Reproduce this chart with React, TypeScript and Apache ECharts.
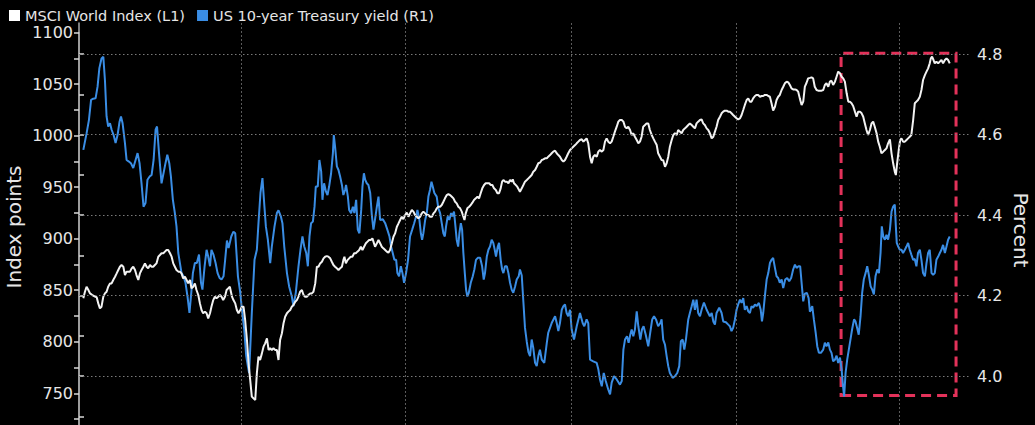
import React, { useEffect, useRef } from "react";
import * as echarts from "echarts";

// Series names (legend)
const seriesNames = ["MSCI World Index (L1)", "US 10-year Treasury yield (R1)"];

// x values are days since 2025-01-01
const msciDays = [
  2.4,3.3,4.2,5.2,6.1,7.4,8.9,9.8,10.7,11.6,
  12.5,13.5,14.4,15.3,16.2,17.2,18.1,19.0,20.0,20.9,
  21.8,22.7,23.6,24.6,25.5,26.4,27.3,28.3,29.2,30.1,
  31.1,31.9,32.9,33.8,34.7,35.7,36.6,37.5,38.4,39.4,
  40.3,41.2,42.1,43.0,44.0,44.9,45.8,46.8,47.7,48.6,
  49.5,50.5,51.4,52.3,53.2,54.1,55.1,56.0,56.9,57.8,
  58.8,59.7,60.6,61.6,62.4,63.4,64.3,65.2,66.2,67.1,
  68.0,68.9,69.9,70.8,71.7,72.7,73.5,74.5,75.4,76.3,
  77.3,78.2,79.1,80.0,81.0,81.9,82.8,83.7,84.9,85.7,
  86.7,87.6,88.5,89.5,90.4,91.3,92.2,93.2,94.1,95.0,
  95.9,96.8,97.8,98.7,99.6,100.5,101.5,102.4,103.3,104.3,
  105.2,106.1,107.0,107.9,108.9,109.8,110.7,111.6,112.6,113.5,
  114.4,115.4,116.2,117.2,118.1,119.0,120.0,120.9,121.8,122.7,
  123.7,124.6,125.5,126.4,127.3,128.3,129.2,130.1,131.1,132.0,
  132.9,133.8,134.8,135.7,136.6,137.5,138.4,139.4,140.3,141.2,
  142.1,143.1,144.0,144.9,145.9,146.7,147.3,148.1,149.0,149.9,
  150.8,151.7,152.7,153.6,154.5,155.5,156.4,157.3,158.2,159.2,
  160.1,161.0,161.9,162.8,163.4,164.3,165.3,166.2,167.1,168.0,
  168.9,169.9,170.8,171.7,172.6,173.6,174.5,175.4,176.4,177.3,
  178.2,179.1,180.0,181.0,181.9,182.8,183.7,184.7,185.6,186.5,
  187.5,188.3,189.3,190.2,191.1,192.1,193.0,193.9,194.8,195.8,
  196.7,197.6,198.5,199.4,200.4,201.3,202.2,203.1,204.1,205.0,
  205.9,206.9,207.8,208.7,209.6,210.5,211.5,212.4,213.3,213.9,
  214.6,215.5,216.5,217.4,218.3,219.2,220.2,221.1,222.0,222.9,
  223.8,224.8,225.7,226.6,227.6,228.5,229.4,230.3,231.3,232.2,
  233.1,234.0,234.8,235.5,236.4,237.4,238.3,239.2,240.1,240.7,
  241.4,242.4,243.2,244.2,244.7,245.7,246.6,247.5,248.5,249.4,
  250.3,251.2,252.1,253.1,254.0,254.9,255.8,256.8,257.7,258.6,
  259.6,260.4,261.4,262.3,263.2,264.2,265.1,266.0,266.9,267.9,
  268.8,269.7,270.6,271.5,272.5,273.4,274.3,275.3,276.2,277.1,
  278.0,279.0,279.9,280.8,281.7,282.6,283.6,284.5,285.4,286.3,
  287.3,288.2,289.1,290.1,291.0,291.9,292.8,293.7,294.7,295.6,
  296.5,297.4,298.4,299.3,300.2,301.2,302.1,303.0,303.9,304.8,
  305.8,306.7,307.6,308.5,309.5,310.4,311.3,312.2,313.1,314.1,
  315.0,315.9,316.8,317.8,318.7,319.6,320.6,321.4,322.4,323.3,
  324.2,325.2,326.1,327.0,327.9,328.9,329.8,330.7,331.7,332.5,
  333.5,334.4,335.3,336.3,337.2,338.1,339.0,340.0,340.9,341.8,
  342.7,343.6,344.6,345.5,346.4,347.3,348.3,349.2,350.1,351.1,
  352.0,352.9,353.8,354.7,355.7,356.6,357.5,358.4,359.4,360.3,
  361.2,362.1,363.0,364.0,364.9,365.8,366.8,367.7,368.6,369.5,
  370.5,371.4,372.3,373.2,374.1,375.1,376.0,376.9,377.9,378.8,
  379.7,380.6,381.6,382.5,383.4,384.3,385.2,386.2,387.1,388.0,
  388.9,389.9,390.8,391.7,392.7,393.6,394.5,395.4,396.3,397.3,
  398.2,399.1,400.0,401.0,401.9,402.8,403.7,404.6,405.6,406.5,
  407.4,408.3,409.3,410.2,411.1,412.1,413.0,413.9,414.8,415.8,
  416.7,417.6,418.5,419.5,420.4,421.3,422.3,423.2,424.1,425.0,
  426.0,426.9,427.8,428.7,429.6,430.6,431.5,432.4,433.4,434.3,
  435.2,436.1,437.0,437.9,438.9,439.8,440.7,441.6,442.6,443.5,
  444.4,445.3,446.3,447.2,448.1,449.0,450.0,450.9,451.8,452.7,
  453.3,454.0,454.9,455.7,456.4,457.3,458.3,459.2,460.1,461.0,
  461.9,462.9,463.8,464.7,465.6,466.6,467.5,468.4,469.4,470.3,
  471.2,472.1,472.7,473.4,474.2,474.9,475.8,476.8,477.7,478.6,
  479.5,480.5,481.4,482.3,483.2,
];

const msciValues = [
  842.1,848.5,853.4,850.2,846.9,845.3,843.7,843.1,837.2,832.4,
  834.0,843.7,846.9,848.5,853.4,856.6,856.6,859.9,863.1,866.3,
  869.6,872.8,874.4,872.8,864.7,868.0,868.0,868.0,871.2,872.8,
  869.6,864.7,859.9,866.3,869.6,872.8,876.0,872.8,871.2,874.4,
  872.8,872.8,874.4,876.0,882.5,884.1,885.8,885.8,887.4,889.0,
  889.0,885.8,882.5,876.0,872.8,869.6,868.0,868.0,866.3,861.5,
  863.1,859.9,856.6,859.9,851.8,853.4,856.6,850.2,845.3,837.2,
  830.8,827.6,829.2,827.6,822.7,827.6,834.0,840.4,843.7,842.1,
  843.7,845.3,843.7,840.4,843.7,850.2,851.8,853.4,843.7,840.4,
  837.2,830.8,827.6,830.8,834.0,834.0,821.1,801.7,779.0,762.9,
  746.7,745.1,743.5,769.4,785.5,782.3,788.7,795.2,798.4,803.3,
  792.0,793.6,792.0,793.6,792.0,792.0,782.3,801.7,808.2,817.9,
  824.3,827.6,829.2,830.8,834.0,835.6,838.8,840.4,843.7,848.5,
  850.2,845.3,843.7,843.7,845.3,846.9,846.9,848.5,856.6,872.8,
  872.8,876.0,877.6,880.9,882.5,883.1,882.5,880.9,877.6,874.4,
  872.8,871.2,869.6,871.2,872.8,879.2,882.5,876.0,879.2,880.9,
  882.5,882.5,885.8,885.8,887.4,889.0,892.2,889.0,892.2,895.5,
  897.1,898.7,898.7,900.3,897.1,892.2,895.5,898.7,895.5,892.2,
  890.6,889.0,887.4,886.4,889.0,895.5,901.9,905.1,911.6,914.8,
  918.1,921.3,919.0,922.9,925.2,921.3,924.5,927.8,926.2,922.9,
  921.3,919.7,921.3,924.5,926.2,924.5,922.9,922.9,921.3,921.3,
  924.5,926.2,929.4,931.0,931.0,932.6,935.8,939.1,942.3,943.3,
  942.3,940.7,939.1,935.8,934.2,931.0,929.4,926.2,921.3,918.1,
  924.5,929.4,931.0,932.6,934.9,937.5,939.1,940.7,939.1,944.0,
  948.8,952.0,953.7,953.7,953.7,952.0,952.0,948.8,947.2,944.0,
  944.0,948.8,955.3,956.9,955.3,955.3,953.7,956.9,955.3,957.5,
  953.7,952.0,950.4,947.2,945.6,948.8,952.0,955.3,956.9,958.5,
  960.1,961.7,965.0,966.6,969.8,973.1,973.7,976.3,976.9,977.9,
  977.9,979.5,981.1,982.8,984.4,985.3,982.8,981.1,979.5,976.3,
  974.7,976.3,979.5,982.8,986.0,987.6,989.2,990.8,992.5,994.1,
  995.7,996.4,994.1,995.7,997.3,992.5,979.5,973.1,979.5,981.1,
  979.5,984.4,986.0,984.4,986.0,994.1,997.3,994.1,992.5,994.1,
  998.9,1003.8,1008.6,1013.5,1015.1,1015.1,1013.5,1008.6,1007.0,1008.6,
  1005.4,1000.6,1002.2,998.9,995.7,992.5,994.1,998.9,1008.6,1010.2,
  1011.8,1011.8,1005.4,1000.6,997.3,994.1,990.8,982.8,979.5,976.3,
  976.0,969.8,973.1,979.5,989.2,995.7,1000.6,1002.2,1000.6,1005.4,
  1003.8,1002.2,1005.4,1007.0,1008.6,1010.2,1011.8,1010.2,1008.6,1007.0,
  1011.8,1013.5,1015.1,1015.8,1011.8,1010.2,1007.0,1005.4,1002.2,997.3,
  998.9,1003.8,1008.6,1015.1,1018.3,1021.6,1023.2,1024.2,1024.2,1023.2,
  1023.2,1021.6,1020.0,1018.3,1016.7,1015.8,1016.7,1020.0,1024.8,1029.7,
  1034.5,1036.1,1032.9,1032.9,1036.1,1038.4,1039.4,1039.4,1037.7,1038.4,
  1038.4,1039.4,1039.4,1038.4,1037.7,1031.3,1024.2,1028.0,1034.5,1037.7,
  1039.4,1044.2,1047.4,1050.7,1052.3,1051.6,1049.1,1045.8,1044.8,1044.8,
  1044.2,1042.6,1036.1,1029.7,1032.9,1047.4,1051.0,1055.5,1056.0,1056.5,
  1055.5,1047.4,1044.2,1043.6,1043.6,1043.6,1044.2,1049.1,1050.7,1047.4,
  1052.3,1053.2,1049.1,1052.3,1057.1,1062.0,1060.4,1057.1,1055.5,1052.3,
  1041.0,1032.9,1032.9,1031.3,1028.7,1023.2,1018.3,1023.2,1023.2,1021.6,
  1018.3,1011.8,1005.4,1000.6,1005.4,1011.8,1013.5,1008.6,1002.2,994.1,
  989.2,982.8,984.4,986.0,987.6,992.5,996.4,982.8,973.1,965.0,
  961.7,973.1,986.0,995.7,997.3,994.1,994.1,995.7,997.3,998.9,
  1000.6,1015.1,1031.3,1032.9,1034.5,1037.7,1044.2,1053.9,1058.7,1062.0,
  1065.2,1070.1,1074.9,1076.5,1073.3,1070.1,1071.7,1070.1,1071.7,1073.3,
  1070.1,1073.3,1074.9,1073.3,1070.1,
];

const yieldDays = [
  2.4,4.2,5.5,6.7,7.9,9.2,10.3,11.3,12.5,13.5,
  14.4,15.3,16.2,17.2,18.1,19.2,20.3,21.4,22.5,23.3,
  24.2,25.5,26.4,27.7,28.8,30.1,31.4,32.5,33.6,34.7,
  35.8,36.9,38.0,39.2,40.3,41.4,42.5,43.3,44.4,45.8,
  46.9,48.0,49.0,50.1,51.0,52.1,53.2,54.1,55.1,56.0,
  56.9,58.0,59.1,60.2,61.3,62.3,63.2,64.3,65.4,66.6,
  67.7,68.5,69.7,70.8,71.7,72.7,73.5,74.6,75.8,76.9,
  78.0,79.1,80.2,81.1,82.1,83.0,84.5,85.7,86.7,88.2,
  89.5,90.4,91.7,92.8,93.7,94.4,95.9,97.4,98.7,99.6,
  100.7,101.8,102.9,103.7,104.8,106.1,107.0,108.5,109.8,110.7,
  112.0,112.9,113.9,115.4,116.6,118.1,119.0,120.3,121.8,122.9,
  124.0,125.0,126.1,127.0,127.9,128.8,129.8,130.7,131.4,132.5,
  133.4,134.4,135.1,136.0,137.0,137.9,138.8,139.9,140.9,141.4,
  142.1,143.1,144.0,144.9,145.9,146.7,147.7,148.2,149.2,149.9,
  151.0,152.0,152.8,153.8,154.7,155.6,156.6,157.3,158.1,158.8,
  159.7,160.6,161.6,162.5,163.4,164.3,165.3,166.2,167.1,168.6,
  169.9,171.1,172.3,173.2,174.1,175.0,176.0,176.7,177.6,178.6,
  179.5,180.4,181.5,182.6,183.7,184.9,186.0,187.1,187.8,188.9,
  189.7,190.4,191.1,192.1,193.0,193.9,194.8,195.6,196.3,197.2,
  198.5,199.4,200.4,201.3,202.2,203.0,203.7,204.6,205.5,206.5,
  207.2,208.1,208.9,209.6,210.4,211.1,211.9,212.6,213.3,214.1,
  214.8,215.5,216.3,217.4,218.5,219.4,220.3,221.3,222.6,223.7,
  224.6,225.3,226.3,227.2,228.1,229.0,229.9,230.7,231.4,232.4,
  233.1,234.0,234.8,235.5,236.4,237.4,238.3,239.2,240.1,241.0,
  242.0,242.9,244.0,244.7,245.7,246.6,247.5,248.5,249.4,250.3,
  251.2,252.1,253.1,254.0,254.9,255.8,256.8,258.2,259.6,260.4,
  262.3,264.2,265.1,266.0,266.9,267.9,268.8,269.7,270.6,271.5,
  272.5,273.4,274.7,276.2,278.0,279.5,280.4,281.7,282.6,283.6,
  285.4,287.3,288.2,289.1,290.1,291.2,292.3,293.7,294.7,295.6,
  296.9,298.4,300.2,301.2,302.1,303.0,304.1,305.0,305.9,306.7,
  307.6,308.5,309.5,310.4,311.5,312.4,313.3,314.5,315.9,317.0,
  318.1,319.1,320.2,321.4,322.6,323.3,324.2,325.2,326.1,327.0,
  327.9,329.4,330.7,332.0,333.1,334.0,335.0,335.9,336.8,338.1,
  339.0,340.0,340.9,341.8,342.7,343.6,344.6,345.5,346.8,348.3,
  349.2,350.1,351.1,352.0,352.9,353.8,355.3,356.6,357.5,359.0,
  360.3,361.2,362.1,363.0,364.0,364.9,365.8,366.8,367.7,368.6,
  369.5,370.5,371.4,372.3,373.2,374.1,375.1,376.0,377.3,378.3,
  379.0,379.7,380.6,381.6,382.5,383.4,384.3,385.2,386.2,387.1,
  388.0,388.9,389.9,390.8,391.9,393.0,394.1,395.2,396.3,397.3,
  398.2,399.3,400.2,401.1,401.9,402.8,403.9,404.9,405.6,406.9,
  407.8,408.8,409.7,410.6,411.7,413.0,413.9,414.8,415.8,416.7,
  417.6,418.5,419.5,420.4,421.3,422.3,423.2,423.9,424.6,425.4,
  426.3,427.2,428.1,429.0,430.1,430.9,431.8,432.7,433.7,434.6,
  435.5,436.5,437.4,438.3,439.3,440.2,441.1,442.0,443.0,443.9,
  444.8,445.5,446.3,447.2,448.1,449.0,450.0,450.9,451.8,452.7,
  453.3,453.8,454.6,455.5,456.4,457.3,458.3,459.2,460.1,461.0,
  461.9,462.9,463.8,464.7,465.6,466.6,467.5,468.4,469.4,470.3,
  471.2,472.1,473.1,474.0,474.9,475.8,476.8,477.7,478.6,479.5,
  480.5,481.4,482.3,483.2,
];

const yieldValues = [
  4.562,4.603,4.636,4.686,4.689,4.690,4.719,4.765,4.789,4.793,
  4.735,4.645,4.620,4.628,4.612,4.599,4.579,4.599,4.632,4.645,
  4.628,4.579,4.537,4.533,4.529,4.517,4.537,4.554,4.529,4.479,
  4.421,4.430,4.488,4.496,4.500,4.537,4.612,4.620,4.554,4.479,
  4.504,4.529,4.550,4.529,4.496,4.438,4.405,4.372,4.306,4.281,
  4.256,4.248,4.232,4.198,4.157,4.207,4.256,4.281,4.281,4.302,
  4.232,4.215,4.273,4.314,4.297,4.273,4.314,4.302,4.281,4.256,
  4.244,4.240,4.248,4.289,4.337,4.318,4.347,4.359,4.355,4.248,
  4.207,4.165,4.116,4.050,4.025,4.008,4.157,4.289,4.314,4.380,
  4.455,4.492,4.421,4.372,4.339,4.281,4.322,4.372,4.405,4.412,
  4.397,4.380,4.322,4.256,4.223,4.198,4.174,4.207,4.273,4.314,
  4.347,4.322,4.306,4.273,4.347,4.380,4.384,4.421,4.471,4.471,
  4.537,4.508,4.438,4.479,4.459,4.450,4.471,4.504,4.554,4.599,
  4.570,4.521,4.512,4.496,4.475,4.450,4.463,4.475,4.446,4.413,
  4.405,4.421,4.405,4.438,4.364,4.355,4.413,4.471,4.504,4.488,
  4.479,4.475,4.455,4.400,4.364,4.390,4.421,4.446,4.388,4.390,
  4.380,4.364,4.347,4.322,4.306,4.289,4.289,4.256,4.248,4.273,
  4.256,4.232,4.256,4.289,4.347,4.364,4.380,4.397,4.413,4.388,
  4.355,4.339,4.355,4.388,4.405,4.446,4.463,4.483,4.471,4.455,
  4.446,4.417,4.405,4.380,4.355,4.347,4.372,4.397,4.388,4.405,
  4.397,4.409,4.372,4.339,4.322,4.355,4.380,4.364,4.306,4.256,
  4.215,4.198,4.207,4.232,4.248,4.265,4.289,4.294,4.294,4.273,
  4.240,4.256,4.297,4.314,4.322,4.339,4.331,4.314,4.297,4.322,
  4.331,4.289,4.265,4.256,4.273,4.273,4.256,4.232,4.215,4.207,
  4.223,4.240,4.248,4.265,4.250,4.185,4.120,4.085,4.060,4.050,
  4.091,4.070,4.033,4.025,4.050,4.066,4.041,4.033,4.083,4.108,
  4.132,4.149,4.132,4.112,4.132,4.165,4.174,4.178,4.157,4.149,
  4.165,4.116,4.091,4.124,4.157,4.132,4.124,4.141,4.132,4.041,
  4.037,4.033,4.017,3.992,3.975,4.008,3.988,3.967,3.955,3.984,
  4.000,3.992,3.979,3.988,4.066,4.091,4.099,4.083,4.103,4.116,
  4.099,4.116,4.161,4.124,4.091,4.116,4.124,4.103,4.074,4.108,
  4.141,4.149,4.141,4.124,4.132,4.141,4.091,4.078,4.050,4.025,
  4.008,3.996,4.000,4.008,4.025,4.087,4.091,4.066,4.091,4.141,
  4.157,4.174,4.190,4.165,4.190,4.157,4.149,4.165,4.183,4.165,
  4.157,4.149,4.157,4.136,4.128,4.157,4.170,4.157,4.136,4.134,
  4.128,4.124,4.112,4.120,4.141,4.165,4.178,4.190,4.182,4.194,
  4.165,4.174,4.161,4.157,4.174,4.170,4.178,4.174,4.182,4.165,
  4.136,4.157,4.198,4.240,4.256,4.281,4.289,4.294,4.269,4.248,
  4.244,4.232,4.240,4.219,4.240,4.244,4.236,4.244,4.265,4.277,
  4.269,4.273,4.273,4.227,4.186,4.205,4.207,4.194,4.160,4.174,
  4.141,4.108,4.074,4.058,4.058,4.066,4.083,4.074,4.084,4.066,
  4.058,4.037,4.041,4.051,4.033,4.046,4.017,3.979,3.950,4.008,
  4.041,4.066,4.091,4.116,4.141,4.136,4.120,4.103,4.149,4.207,
  4.240,4.256,4.273,4.252,4.223,4.215,4.203,4.248,4.265,4.256,
  4.306,4.372,4.347,4.339,4.351,4.339,4.364,4.409,4.421,4.426,
  4.372,4.331,4.322,4.314,4.314,4.306,4.314,4.322,4.331,4.314,
  4.302,4.289,4.291,4.273,4.306,4.314,4.289,4.256,4.248,4.281,
  4.306,4.314,4.256,4.252,4.256,4.289,4.297,4.306,4.314,4.326,
  4.306,4.322,4.339,4.347,
];

// Axis ticks / labels
const leftTickLabels = [750, 800, 850, 900, 950, 1000, 1050, 1100];
const leftTickMarks = [725, 750, 775, 800, 825, 850, 875, 900, 925, 950, 975, 1000, 1025, 1050, 1075, 1100];
const rightTickLabels = [4.0, 4.2, 4.4, 4.6, 4.8];
const rightTickMarks = [3.9, 4.0, 4.1, 4.2, 4.3, 4.4, 4.5, 4.6, 4.7, 4.8];
// Quarter starts (days since 2025-01-01): Apr, Jul, Oct 2025, Jan, Apr 2026
const quarterStarts = [90, 181, 273, 365, 455];
// Highlighted window (days, yield range)
const highlightDays = [422.9, 486.7];
const highlightYield = [3.952, 4.802];

const FONT = "DejaVu Sans";
const TEXT = "#e6e6e6";

function zip(xs: number[], ys: number[]): number[][] {
  const n = Math.min(xs.length, ys.length);
  const out: number[][] = [];
  for (let i = 0; i < n; i++) out.push([xs[i], ys[i]]);
  return out;
}

export default function App() {
  const ref = useRef<HTMLDivElement>(null);

  useEffect(() => {
    if (!ref.current) return;
    const chart = echarts.init(ref.current, undefined, { renderer: "svg" });

    const isIn = (arr: number[], v: number) => arr.some((t) => Math.abs(t - v) < 1e-6);

    const option: any = {
      animation: false,
      backgroundColor: "#000000",
      legend: {
        data: seriesNames,
        left: 4,
        top: 3,
        icon: "rect",
        itemWidth: 11,
        itemHeight: 11,
        itemGap: 12,
        textStyle: { color: TEXT, fontSize: 14.5, fontFamily: FONT },
      },
      grid: [
        { left: 79, width: 892, top: 32.5, height: 412.3 },
        { left: 79, width: 892, top: 23, height: 433.74 },
      ],
      xAxis: [
        { type: "value", gridIndex: 0, min: 0, max: 495, show: false },
        { type: "value", gridIndex: 1, min: 0, max: 495, show: false },
      ],
      yAxis: [
        {
          type: "value",
          gridIndex: 0,
          position: "left",
          min: 700,
          max: 1100,
          interval: 50,
          axisLine: { show: true, lineStyle: { color: "#a8a8a8", width: 1.5 } },
          axisTick: {
            show: true,
            customValues: leftTickMarks,
            length: 5,
            lineStyle: { color: "#d8d8d8", width: 1.5 },
          },
          axisLabel: {
            customValues: leftTickLabels,
            color: TEXT,
            fontSize: 16,
            fontFamily: FONT,
            margin: 6,
            formatter: (v: number) => (isIn(leftTickLabels, v) ? String(v) : ""),
          },
          splitLine: { show: false },
        },
        {
          type: "value",
          gridIndex: 1,
          position: "right",
          min: 3.8,
          max: 4.8771,
          interval: 0.2,
          axisLine: { show: true, lineStyle: { color: "#a8a8a8", width: 1.5 } },
          axisTick: {
            show: true,
            customValues: rightTickMarks,
            length: 5,
            lineStyle: { color: "#d8d8d8", width: 1.5 },
          },
          axisLabel: {
            customValues: rightTickLabels,
            color: TEXT,
            fontSize: 16,
            fontFamily: FONT,
            margin: 6,
            formatter: (v: number) => (isIn(rightTickLabels, v) ? v.toFixed(1) : ""),
          },
          splitLine: { show: false },
        },
      ],
      graphic: [
        {
          type: "text",
          x: 14,
          y: 227,
          rotation: Math.PI / 2,
          style: {
            text: "Index points",
            fill: TEXT,
            fontSize: 20,
            fontFamily: FONT,
            align: "center",
            verticalAlign: "middle",
          },
        },
        {
          type: "text",
          x: 1021,
          y: 230,
          rotation: -Math.PI / 2,
          style: {
            text: "Percent",
            fill: TEXT,
            fontSize: 20,
            fontFamily: FONT,
            align: "center",
            verticalAlign: "middle",
          },
        },
      ],
      series: [
        {
          name: seriesNames[0],
          type: "line",
          xAxisIndex: 0,
          yAxisIndex: 0,
          data: zip(msciDays, msciValues),
          symbol: "none",
          showSymbol: false,
          lineStyle: { color: "#f2f2f2", width: 2 },
          itemStyle: { color: "#ffffff" },
          z: 4,
        },
        {
          name: seriesNames[1],
          type: "line",
          xAxisIndex: 1,
          yAxisIndex: 1,
          data: zip(yieldDays, yieldValues),
          symbol: "none",
          showSymbol: false,
          lineStyle: { color: "#3a8de4", width: 2 },
          itemStyle: { color: "#3a8de4" },
          z: 3,
          markLine: {
            silent: true,
            symbol: ["none", "none"],
            label: { show: false },
            lineStyle: { color: "#7a7a7a", width: 1, type: [1.5, 2.5] },
            emphasis: { disabled: true },
            data: [
              ...rightTickLabels.map((v) => ({ yAxis: v })),
              ...quarterStarts.map((d) => ({ xAxis: d })),
            ],
          },
          markArea: {
            silent: true,
            label: { show: false },
            itemStyle: {
              color: "rgba(0,0,0,0)",
              borderColor: "#e3325a",
              borderWidth: 3,
              borderType: [10, 6],
            },
            data: [
              [
                { xAxis: highlightDays[0], yAxis: highlightYield[0] },
                { xAxis: highlightDays[1], yAxis: highlightYield[1] },
              ],
            ],
          },
        },
      ],
    };

    chart.setOption(option);
    return () => chart.dispose();
  }, []);

  return (
    <div
      ref={ref}
      style={{ position: "fixed", left: 0, top: 0, width: 1035, height: 480, background: "#000" }}
    />
  );
}
